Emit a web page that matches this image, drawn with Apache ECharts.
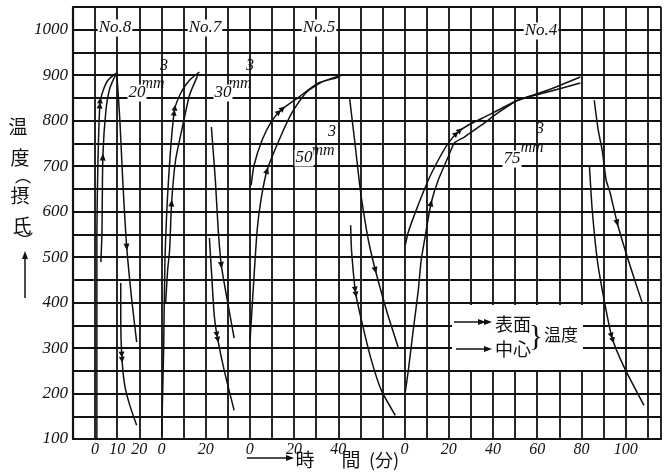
<!DOCTYPE html>
<html>
<head>
<meta charset="utf-8">
<script src="https://cdn.jsdelivr.net/npm/echarts@6/dist/echarts.min.js"></script>
<style>
html,body{margin:0;padding:0;background:#fff}
#chart{width:664px;height:475px}
</style>
</head>
<body>
<div id="chart"></div>
<script>
// time axis is one long strip, 10 min per grid cell; each specimen has its own zero
var xTickAt   = [10, 20, 30, 40, 60, 80, 100, 120, 150, 170, 190, 210, 230, 250]
var xTickText = ['0', '10', '20', '0', '20', '0', '20', '40', '0', '20', '40', '60', '80', '100']
var yTickText = [100, 200, 300, 400, 500, 600, 700, 800, 900, 1000]

// No.8 (20mm)
var no8SurfUp   = [[10.8,102],[10.8,405],[10.8,553],[11.3,713],[12.2,839],[13.6,866],[15.8,889],[19.4,904]]
var no8CoreUp   = [[12.6,489],[13.1,553],[13.5,720],[14.9,823],[16.7,872],[19.6,904]]
var no8CoreDown = [[19.8,905],[21.2,801],[22.5,669],[24.3,522],[26.6,405],[28.8,313]]
var no8SurfDown = [[21.6,443],[21.6,361],[22.1,280],[23.4,218],[25.7,174],[28.8,130]]
// No.7 (30mm)
var no7SurfUp   = [[40.1,108],[41,295],[41.6,493],[43.2,669],[45.9,823],[49,863],[52.7,889],[57.2,907]]
var no7CoreUp   = [[41.9,399],[42.8,471],[43.7,515],[44.6,619],[46.4,713],[49.5,786],[52.7,856],[56.3,898]]
var no7CoreDown = [[62.6,786],[64.4,669],[65.7,559],[67.1,482],[69.8,405],[72.9,322]]
var no7SurfDown = [[61.7,542],[62.6,471],[63.9,372],[65.3,324],[68.4,251],[72.9,163]]
// No.5 (50mm)
var no5SurfUp   = [[80.6,658],[81.9,702],[85.5,757],[89.6,797],[94,823],[102.2,852],[111,883],[119,894],[121,898]]
var no5CoreUp   = [[80.1,317],[81.5,427],[83.3,559],[85,625],[87.8,691],[93.2,757],[99,817],[105.3,861],[112.5,885],[120,898]]
var no5CoreDown = [[125.1,850],[127.4,757],[130,647],[132.8,559],[134.6,515],[136.8,471],[141.8,383],[147.2,300]]
var no5SurfDown = [[125.6,570],[126,515],[127.8,423],[130.5,361],[135,273],[139.5,207],[145.8,152]]
// No.4 (75mm)
var no4SurfUp   = [[150.3,526],[151.7,555],[155,600],[160.7,669],[165.2,713],[169.7,750],[174.2,775],[178.7,790],[185.4,806],[192.2,823],[201.2,845],[214.7,867],[229.5,896]]
var no4CoreUp   = [[150.3,203],[151.7,251],[153.9,339],[156.2,427],[157.5,493],[159.8,559],[162,619],[165.2,669],[169.7,720],[172.5,751],[177,764],[184.7,790],[192.2,817],[201.2,845],[214.7,863],[229.5,883]]
var no4CoreDown = [[235.8,845],[237.6,779],[239.4,735],[241.2,669],[243,641],[246.2,575],[249.8,515],[253.4,460],[257.4,401]]
var no4SurfDown = [[233.6,702],[234.9,603],[237.2,493],[240.3,405],[243.9,322],[249.3,258],[258.3,174]]

// which vertex carries the arrowhead; 2 heads = surface (表面), 1 = centre (中心)
var curves = [
  {data: no8SurfUp, at: 4, heads: 2}, {data: no8CoreUp, at: 2, heads: 1},
  {data: no8CoreDown, at: 3, heads: 1}, {data: no8SurfDown, at: 2, heads: 2},
  {data: no7SurfUp, at: 4, heads: 2}, {data: no7CoreUp, at: 3, heads: 1},
  {data: no7CoreDown, at: 3, heads: 1}, {data: no7SurfDown, at: 3, heads: 2},
  {data: no5SurfUp, at: 4, heads: 2}, {data: no5CoreUp, at: 4, heads: 1},
  {data: no5CoreDown, at: 5, heads: 1}, {data: no5SurfDown, at: 2, heads: 2},
  {data: no4SurfUp, at: 6, heads: 2}, {data: no4CoreUp, at: 6, heads: 1},
  {data: no4CoreDown, at: 5, heads: 1}, {data: no4SurfDown, at: 4, heads: 2}
]

var ink = '#111'
var numFont = 'Liberation Serif'
var cjk = 'Noto Sans CJK JP'

function txt(s, x, y, size, opts){
  opts = opts || {}
  return {
    type: 'text', z: 20, silent: true,
    style: {
      text: s, x: x, y: y,
      fill: ink,
      font: (opts.italic ? 'italic ' : '') + size + 'px "' + (opts.family || numFont) + '"',
      align: 'center', verticalAlign: 'middle',
      textAlign: 'center', textVerticalAlign: 'middle',
      backgroundColor: opts.bg || null,
      padding: opts.bg ? [0, 1] : 0
    }
  }
}
function head(x, y, dir){
  // small filled arrowhead, dir: 'up' or 'right'
  var pts = dir == 'up' ? [[x,y],[x-3,y+8],[x+3,y+8]] : [[x,y],[x-8,y-3],[x-8,y+3]]
  return {type: 'polygon', z: 20, silent: true, shape: {points: pts}, style: {fill: ink}}
}
function seg(x1, y1, x2, y2){
  return {type: 'line', z: 20, silent: true, shape: {x1: x1, y1: y1, x2: x2, y2: y2}, style: {stroke: ink, lineWidth: 1.5}}
}

var graphics = [
  // specimen labels
  txt('No.8', 115, 28, 17, {italic: true, bg: '#fff'}),
  txt('No.7', 205, 28, 17, {italic: true, bg: '#fff'}),
  txt('No.5', 319, 28, 17, {italic: true, bg: '#fff'}),
  txt('No.4', 541, 31, 17, {italic: true, bg: '#fff'}),
  // thickness labels  (3 over mm)
  txt('3', 164, 66, 16, {italic: true}), txt('mm', 153, 84, 16, {italic: true}), txt('20', 137, 93, 17, {italic: true, bg: '#fff'}),
  txt('3', 250, 66, 16, {italic: true}), txt('mm', 240, 84, 16, {italic: true}), txt('30', 223, 93, 17, {italic: true, bg: '#fff'}),
  txt('3', 332, 132, 16, {italic: true}), txt('mm', 323, 151, 16, {italic: true}), txt('50', 304, 158, 17, {italic: true, bg: '#fff'}),
  txt('3', 540, 129, 16, {italic: true}), txt('mm', 532, 148, 16, {italic: true}), txt('75', 512, 159, 17, {italic: true, bg: '#fff'}),
  // y title, written vertically
  txt('温', 18, 127, 19, {family: cjk}),
  txt('度', 20, 158, 19, {family: cjk}),
  txt('︵', 23, 176, 16, {family: cjk}),
  txt('摂', 20, 196, 19, {family: cjk}),
  txt('氏', 22, 226, 19, {family: cjk}),
  txt('︶', 25, 240, 16, {family: cjk}),
  seg(25, 298, 25, 258), head(25, 251, 'up'),
  // x title
  seg(247, 458, 288, 458), head(294, 458, 'right'),
  txt('時', 305, 460, 19, {family: cjk}),
  txt('間', 351, 460, 19, {family: cjk}),
  txt('(分)', 384, 460, 18, {family: cjk}),
  // key box
  {type: 'rect', z: 15, silent: true, shape: {x: 452, y: 305, width: 131, height: 65}, style: {fill: '#fff'}},
  seg(454, 322, 486, 322), head(486, 322, 'right'), head(492, 322, 'right'),
  seg(456, 349, 486, 349), head(492, 349, 'right'),
  txt('表面', 513, 324, 18, {family: cjk}),
  txt('中心', 513, 349, 18, {family: cjk}),
  txt('}', 536, 337, 30, {family: 'Liberation Serif'}),
  txt('温度', 561, 335, 17, {family: cjk})
]

var lineSeries = curves.map(function(c){
  return {
    type: 'line', data: c.data, showSymbol: false, smooth: 0.2,
    lineStyle: {color: ink, width: 1.5}, silent: true, z: 5
  }
})

var myChart = echarts.init(document.getElementById('chart'))
var option = {
  animation: false,
  backgroundColor: '#fff',
  grid: {left: 73, right: 0, top: 7, bottom: 36},
  xAxis: {
    type: 'value', min: 0, max: 266, interval: 10,
    axisLine: {lineStyle: {color: ink, width: 2.2}},
    axisTick: {show: false},
    splitLine: {lineStyle: {color: ink, width: 1.8}},
    axisLabel: {
      margin: 3, color: ink, fontFamily: numFont, fontStyle: 'italic', fontSize: 16,
      showMinLabel: true, showMaxLabel: true,
      formatter: function(v){
        var i = xTickAt.indexOf(Math.round(v))
        return i < 0 ? '' : xTickText[i]
      }
    }
  },
  yAxis: {
    type: 'value', min: 100, max: 1050, interval: 50,
    axisLine: {show: true, lineStyle: {color: ink, width: 2.2}},
    axisTick: {show: false},
    splitLine: {lineStyle: {color: ink, width: 1.8}},
    axisLabel: {
      margin: 5, color: ink, fontFamily: numFont, fontStyle: 'italic', fontSize: 17,
      formatter: function(v){ return yTickText.indexOf(Math.round(v)) < 0 ? '' : String(v) }
    }
  },
  graphic: graphics,
  series: lineSeries
}
myChart.setOption(option)

// arrowheads follow the curve direction at their vertex
var arrowData = curves.map(function(c){
  var a = myChart.convertToPixel({gridIndex: 0}, c.data[c.at - 1])
  var b = myChart.convertToPixel({gridIndex: 0}, c.data[c.at + 1])
  var rot = Math.atan2(-(b[0] - a[0]), -(b[1] - a[1])) * 180 / Math.PI
  return {
    value: c.data[c.at],
    symbol: c.heads == 2 ? 'path://M5,0L10,7L0,7Z M5,6L10,13L0,13Z' : 'path://M5,0L10,9L0,9Z',
    symbolSize: c.heads == 2 ? [6, 11] : [6, 7],
    symbolRotate: rot
  }
})
myChart.setOption({
  series: lineSeries.concat([{
    type: 'scatter', data: arrowData, silent: true, z: 8,
    itemStyle: {color: ink, opacity: 1}
  }])
})
</script>
</body>
</html>
